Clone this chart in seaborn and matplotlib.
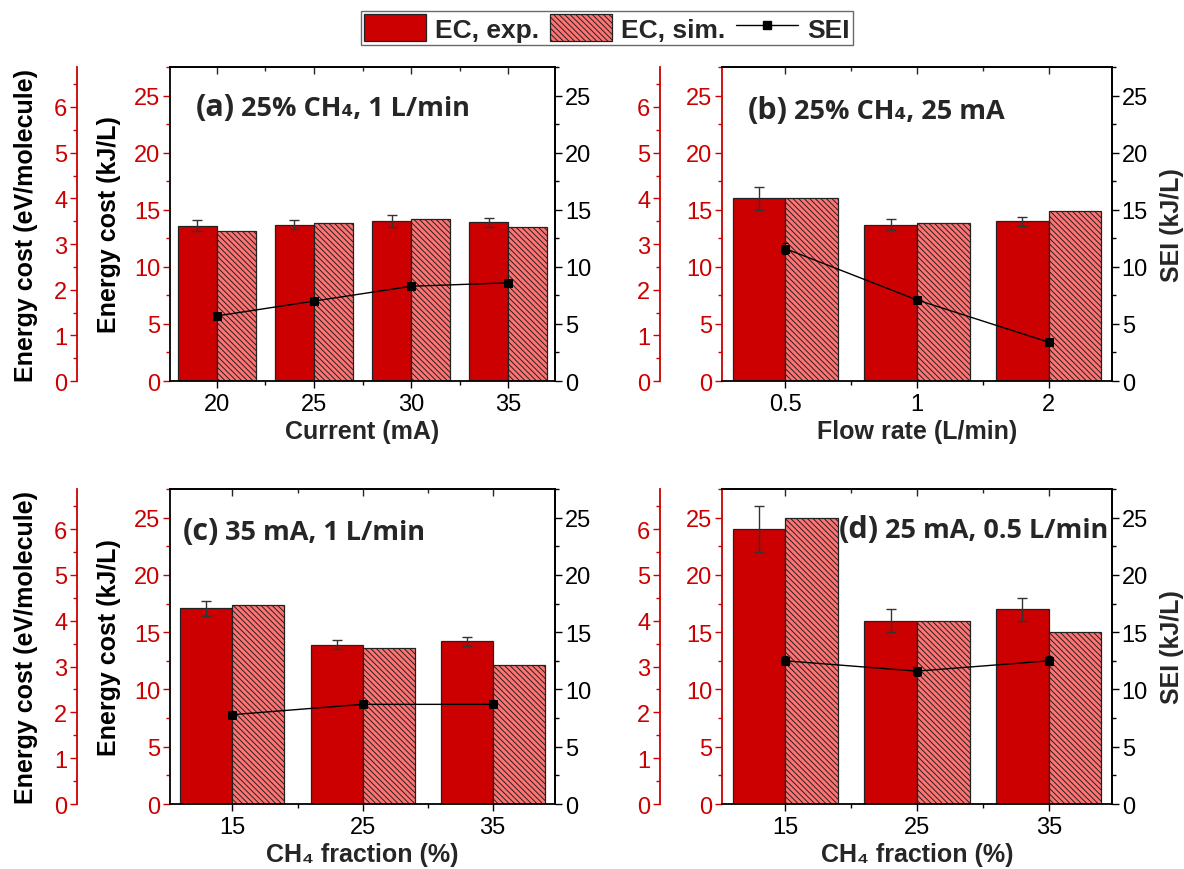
import numpy as np
import pandas as pd
import seaborn as sns
import matplotlib.pyplot as plt
from matplotlib.ticker import MultipleLocator, AutoMinorLocator
from matplotlib.patches import Patch
from matplotlib.lines import Line2D

# ---- data ----
a_cats = ['20', '25', '30', '35']
a_exp = [13.6, 13.7, 14.0, 13.9]
a_exp_err = [0.5, 0.4, 0.5, 0.4]
a_sim = [13.1, 13.8, 14.2, 13.5]
a_sei = [5.7, 7.0, 8.3, 8.6]
a_sei_err = [0, 0, 0, 0]

b_cats = ['0.5', '1', '2']
b_exp = [16.0, 13.7, 14.0]
b_exp_err = [1.0, 0.45, 0.4]
b_sim = [16.0, 13.85, 14.85]
b_sei = [11.6, 7.1, 3.4]
b_sei_err = [0.5, 0.2, 0.2]

c_cats = ['15', '25', '35']
c_exp = [17.1, 13.9, 14.2]
c_exp_err = [0.65, 0.4, 0.4]
c_sim = [17.4, 13.6, 12.1]
c_sei = [7.8, 8.7, 8.7]
c_sei_err = [0, 0, 0]

d_cats = ['15', '25', '35']
d_exp = [24.0, 16.0, 17.0]
d_exp_err = [2.0, 1.0, 1.0]
d_sim = [25.0, 16.0, 15.0]
d_sei = [12.5, 11.6, 12.5]
d_sei_err = [0.4, 0.4, 0.4]

RED = '#CC0000'
PINK = '#FF7373'
YMAX = 27.5
KJ_PER_EV = 4.0
HATCH = '\\' * 6
TICK_FS = 17
LABEL_FS = 18

sns.set_theme(style='ticks')
plt.rcParams['font.family'] = ['Liberation Sans', 'DejaVu Sans']
plt.rcParams['hatch.linewidth'] = 0.7
plt.rcParams['hatch.color'] = 'black'

panels = [
    dict(cats=a_cats, exp=a_exp, err=a_exp_err, sim=a_sim, sei=a_sei, sei_err=a_sei_err,
         xlabel='Current (mA)', tag='(a)', title='25% CH₄, 1 L/min',
         rect=[0.1436, 0.5609, 0.3252, 0.3609], ev_off=67, left=True, right=False,
         spine='black', tpos=(0.066, 0.848)),
    dict(cats=b_cats, exp=b_exp, err=b_exp_err, sim=b_sim, sei=b_sei, sei_err=b_sei_err,
         xlabel='Flow rate (L/min)', tag='(b)', title='25% CH₄, 25 mA',
         rect=[0.6098, 0.5609, 0.3294, 0.3609], ev_off=44.5, left=False, right=True,
         spine=RED, tpos=(0.066, 0.838)),
    dict(cats=c_cats, exp=c_exp, err=c_exp_err, sim=c_sim, sei=c_sei, sei_err=c_sei_err,
         xlabel='CH₄ fraction (%)', tag='(c)', title='35 mA, 1 L/min',
         rect=[0.1436, 0.0747, 0.3252, 0.3621], ev_off=67, left=True, right=False,
         spine='black', tpos=(0.034, 0.842)),
    dict(cats=d_cats, exp=d_exp, err=d_exp_err, sim=d_sim, sei=d_sei, sei_err=d_sei_err,
         xlabel='CH₄ fraction (%)', tag='(d)', title='25 mA, 0.5 L/min',
         rect=[0.6098, 0.0747, 0.3294, 0.3621], ev_off=44.5, left=False, right=True,
         spine=RED, tpos=(0.30, 0.847)),
]

fig = plt.figure(figsize=(11.84, 8.70), dpi=100)
tags = []

for p in panels:
    n = len(p['cats'])
    ax = fig.add_axes(p['rect'])
    df = pd.DataFrame({
        'cat': p['cats'] * 2,
        'type': ['EC, exp.'] * n + ['EC, sim.'] * n,
        'value': p['exp'] + p['sim'],
    })
    sns.barplot(data=df, x='cat', y='value', hue='type', order=p['cats'],
                hue_order=['EC, exp.', 'EC, sim.'],
                palette={'EC, exp.': RED, 'EC, sim.': PINK}, saturation=1,
                width=0.8, edgecolor='#222222', linewidth=0.9,
                errorbar=None, legend=False, ax=ax)
    for bar in ax.containers[1]:
        bar.set_hatch(HATCH)
    xs = [b.get_x() + b.get_width() / 2 for b in ax.containers[0]]
    ax.errorbar(xs, p['exp'], yerr=p['err'], fmt='none', ecolor='#333333',
                elinewidth=1, capsize=3.5, capthick=1, zorder=5)

    # SEI on the right axis
    ax_sei = ax.twinx()
    sns.pointplot(x=p['cats'], y=p['sei'], order=p['cats'], ax=ax_sei, color='black',
                  markers='s', markersize=5.5, linewidth=1, errorbar=None)
    ax_sei.errorbar(range(n), p['sei'], yerr=p['sei_err'], fmt='none', ecolor='black',
                    elinewidth=0.8, capsize=2.5, capthick=0.8)
    ax_sei.set_ylim(0, YMAX)
    ax_sei.yaxis.set_major_locator(MultipleLocator(5))
    ax_sei.yaxis.set_minor_locator(MultipleLocator(2.5))
    ax_sei.tick_params(axis='y', which='both', direction='out', colors='black',
                       labelsize=TICK_FS, right=True, left=False, pad=2)
    ax_sei.tick_params(axis='y', which='major', length=5, width=1)
    ax_sei.tick_params(axis='y', which='minor', length=3, width=1)
    ax_sei.spines['left'].set_visible(False)
    ax_sei.spines['right'].set_linewidth(1.3)
    ax_sei.spines['right'].set_color('black')
    ax_sei.spines['top'].set_visible(False)
    ax_sei.spines['bottom'].set_visible(False)
    if p['right']:
        ax_sei.set_ylabel('SEI (kJ/L)', fontsize=LABEL_FS, fontweight='bold')
        ax_sei.yaxis.set_label_coords(1.122, 0.5)
    else:
        ax_sei.set_ylabel('')

    # eV axis, offset to the left
    ax_ev = ax.twinx()
    ax_ev.set_ylim(0, YMAX / KJ_PER_EV)
    for s in ['right', 'top', 'bottom']:
        ax_ev.spines[s].set_visible(False)
    ax_ev.spines['left'].set_visible(True)
    ax_ev.spines['left'].set_position(('outward', p['ev_off']))
    ax_ev.spines['left'].set_color(RED)
    ax_ev.spines['left'].set_linewidth(1.3)
    ax_ev.yaxis.set_ticks_position('left')
    ax_ev.yaxis.set_label_position('left')
    ax_ev.yaxis.set_major_locator(MultipleLocator(1))
    ax_ev.yaxis.set_minor_locator(MultipleLocator(0.5))
    ax_ev.tick_params(axis='y', which='both', direction='out', colors=RED,
                      labelsize=TICK_FS, pad=2)
    ax_ev.tick_params(axis='y', which='major', length=5, width=1)
    ax_ev.tick_params(axis='y', which='minor', length=3, width=1)
    if p['left']:
        ax_ev.set_ylabel('Energy cost (eV/molecule)', fontsize=LABEL_FS,
                         fontweight='bold', color='black')
        ax_ev.yaxis.set_label_coords(-0.343, 0.5)

    # main axis
    ax.set_ylim(0, YMAX)
    ax.set_xlim(-0.48, n - 1 + 0.48)
    ax.yaxis.set_major_locator(MultipleLocator(5))
    ax.yaxis.set_minor_locator(MultipleLocator(2.5))
    ax.tick_params(axis='y', which='both', direction='out', colors=RED,
                   labelsize=TICK_FS, pad=2)
    ax.tick_params(axis='y', which='major', length=5, width=1)
    ax.tick_params(axis='y', which='minor', length=3, width=1)
    ax.xaxis.set_minor_locator(AutoMinorLocator(2))
    ax.tick_params(axis='x', which='both', direction='out', colors='black',
                   labelsize=TICK_FS, width=1)
    ax.tick_params(axis='x', which='major', length=5)
    ax.tick_params(axis='x', which='minor', length=3)
    for s in ['top', 'bottom', 'right']:
        ax.spines[s].set_color('black')
        ax.spines[s].set_linewidth(1.3)
    ax.spines['left'].set_color(p['spine'])
    ax.spines['left'].set_linewidth(1.3)
    ax.set_xlabel(p['xlabel'], fontsize=LABEL_FS, fontweight='bold', labelpad=3)
    if p['left']:
        ax.set_ylabel('Energy cost (kJ/L)', fontsize=LABEL_FS, fontweight='bold',
                      color='black')
        ax.yaxis.set_label_coords(-0.128, 0.5)
    else:
        ax.set_ylabel('')

    top = ax.secondary_xaxis('top')
    top.set_xticks(range(n))
    top.xaxis.set_minor_locator(AutoMinorLocator(2))
    top.tick_params(axis='x', which='both', direction='in', labeltop=False, width=1)
    top.tick_params(axis='x', which='major', length=5)
    top.tick_params(axis='x', which='minor', length=3)
    top.spines['top'].set_linewidth(1.3)

    t1 = ax_sei.text(p['tpos'][0], p['tpos'][1], p['tag'], transform=ax.transAxes,
                     fontsize=22, fontweight='bold', va='baseline', ha='left',
                     family=['Open Sans', 'DejaVu Sans'], zorder=10)
    tags.append((ax, ax_sei, t1, p))

# place the rest of each title right after its tag
fig.canvas.draw()
renderer = fig.canvas.get_renderer()
for ax, ax_sei, t1, p in tags:
    bb = t1.get_window_extent(renderer)
    x1 = ax.transAxes.inverted().transform((bb.x1 + 6, bb.y0))[0]
    ax_sei.text(x1, p['tpos'][1], p['title'], transform=ax.transAxes,
                fontsize=19.5, fontweight='bold', va='baseline', ha='left',
                family=['Open Sans', 'DejaVu Sans'], zorder=10)

handles = [
    Patch(facecolor=RED, edgecolor='#222222', linewidth=0.9),
    Patch(facecolor=PINK, edgecolor='#222222', linewidth=0.9, hatch=HATCH),
    Line2D([], [], color='black', marker='s', markersize=5.5, linewidth=1),
]
leg = fig.legend(handles, ['EC, exp.', 'EC, sim.', 'SEI'], ncol=3, loc='upper center',
                 bbox_to_anchor=(0.5127, 0.986), frameon=True, fancybox=False,
                 prop={'weight': 'bold', 'size': 19}, handlelength=2.35,
                 handleheight=1.17, handletextpad=0.35, columnspacing=0.4,
                 borderpad=0.12, borderaxespad=0)
leg.get_frame().set_edgecolor('#444444')
leg.get_frame().set_linewidth(1)

fig.savefig('out.png', dpi=100)
